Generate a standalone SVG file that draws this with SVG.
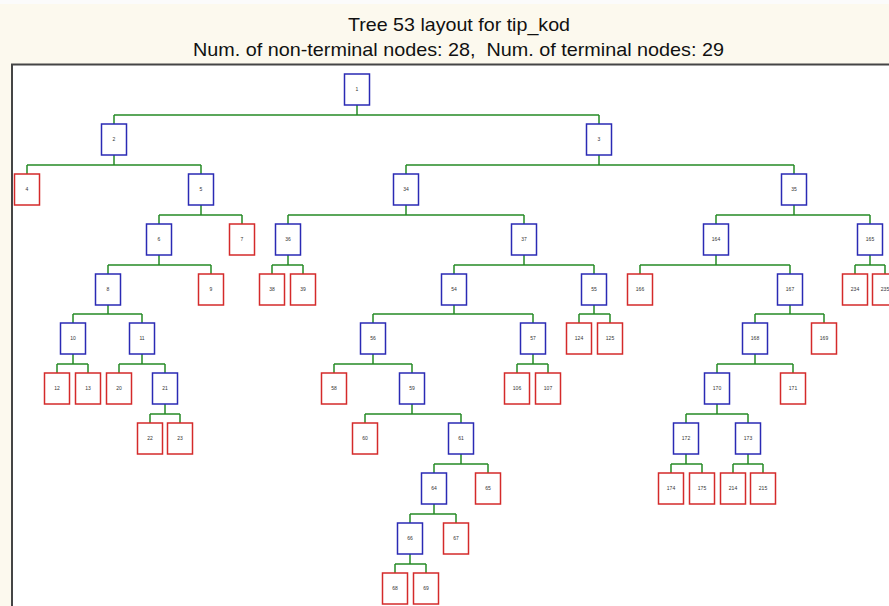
<svg xmlns="http://www.w3.org/2000/svg" width="889" height="606" viewBox="0 0 889 606">
<style>
.n rect{fill:#fff;stroke:#2a2ab4;stroke-width:1.5}
.t rect{fill:#fff;stroke:#d42a2a;stroke-width:1.5}
text.l{font-family:"Liberation Sans",Arial,sans-serif;font-size:5px;fill:#333;text-anchor:middle}
.hd{font-family:"Liberation Sans",Arial,sans-serif;font-size:18.5px;fill:#111;text-anchor:middle}
#connectors path{fill:none;stroke:#268a26;stroke-width:1.5}
</style>
<rect x="0" y="0" width="889" height="606" fill="#fcf9ee"/>
<rect x="0" y="0" width="889" height="4" fill="#fbfbfb"/>
<text class="hd" x="459" y="31" textLength="222" lengthAdjust="spacingAndGlyphs">Tree 53 layout for tip_kod</text>
<text class="hd" x="458.5" y="56" textLength="531" lengthAdjust="spacingAndGlyphs" xml:space="preserve">Num. of non-terminal nodes: 28,  Num. of terminal nodes: 29</text>
<rect x="12" y="64.5" width="900" height="600" fill="#fff" stroke="#454545" stroke-width="2"/>
<g id="connectors">
<path d="M357,105V115M114,115H599M114,115V124M599,115V124"/>
<path d="M114,155V165M27,165H201M27,165V174M201,165V174"/>
<path d="M599,155V165M406,165H794M406,165V174M794,165V174"/>
<path d="M201,205V215M159,215H242M159,215V224M242,215V224"/>
<path d="M406,205V215M288,215H524M288,215V224M524,215V224"/>
<path d="M794,205V215M716,215H870M716,215V224M870,215V224"/>
<path d="M159,255V265M108,265H211M108,265V274M211,265V274"/>
<path d="M288,255V265M272,265H303M272,265V274M303,265V274"/>
<path d="M524,255V265M454,265H594M454,265V274M594,265V274"/>
<path d="M716,255V265M640,265H790M640,265V274M790,265V274"/>
<path d="M870,255V265M855,265H885M855,265V274M885,265V274"/>
<path d="M108,305V314M73,314H142M73,314V323M142,314V323"/>
<path d="M454,305V314M373,314H533M373,314V323M533,314V323"/>
<path d="M594,305V314M579,314H610M579,314V323M610,314V323"/>
<path d="M790,305V314M755,314H824M755,314V323M824,314V323"/>
<path d="M73,354V364M57,364H88M57,364V373M88,364V373"/>
<path d="M142,354V364M119,364H165M119,364V373M165,364V373"/>
<path d="M373,354V364M334,364H412M334,364V373M412,364V373"/>
<path d="M533,354V364M517,364H548M517,364V373M548,364V373"/>
<path d="M755,354V364M717,364H793M717,364V373M793,364V373"/>
<path d="M165,404V414M150,414H180M150,414V423M180,414V423"/>
<path d="M412,404V414M365,414H461M365,414V423M461,414V423"/>
<path d="M717,404V414M686,414H748M686,414V423M748,414V423"/>
<path d="M461,454V464M434,464H488M434,464V473M488,464V473"/>
<path d="M686,454V464M671,464H702M671,464V473M702,464V473"/>
<path d="M748,454V464M733,464H763M733,464V473M763,464V473"/>
<path d="M434,504V514M410,514H456M410,514V523M456,514V523"/>
<path d="M410,554V564M395,564H426M395,564V573M426,564V573"/>
</g>
<g id="n1" class="n"><rect x="344.5" y="74" width="25" height="31"/><text class="l" x="357" y="91">1</text></g>
<g id="n2" class="n"><rect x="101.5" y="124" width="25" height="31"/><text class="l" x="114" y="141">2</text></g>
<g id="n3" class="n"><rect x="586.5" y="124" width="25" height="31"/><text class="l" x="599" y="141">3</text></g>
<g id="n4" class="t"><rect x="14.5" y="174" width="25" height="31"/><text class="l" x="27" y="191">4</text></g>
<g id="n5" class="n"><rect x="188.5" y="174" width="25" height="31"/><text class="l" x="201" y="191">5</text></g>
<g id="n34" class="n"><rect x="393.5" y="174" width="25" height="31"/><text class="l" x="406" y="191">34</text></g>
<g id="n35" class="n"><rect x="781.5" y="174" width="25" height="31"/><text class="l" x="794" y="191">35</text></g>
<g id="n6" class="n"><rect x="146.5" y="224" width="25" height="31"/><text class="l" x="159" y="241">6</text></g>
<g id="n7" class="t"><rect x="229.5" y="224" width="25" height="31"/><text class="l" x="242" y="241">7</text></g>
<g id="n36" class="n"><rect x="275.5" y="224" width="25" height="31"/><text class="l" x="288" y="241">36</text></g>
<g id="n37" class="n"><rect x="511.5" y="224" width="25" height="31"/><text class="l" x="524" y="241">37</text></g>
<g id="n164" class="n"><rect x="703.5" y="224" width="25" height="31"/><text class="l" x="716" y="241">164</text></g>
<g id="n165" class="n"><rect x="857.5" y="224" width="25" height="31"/><text class="l" x="870" y="241">165</text></g>
<g id="n8" class="n"><rect x="95.5" y="274" width="25" height="31"/><text class="l" x="108" y="291">8</text></g>
<g id="n9" class="t"><rect x="198.5" y="274" width="25" height="31"/><text class="l" x="211" y="291">9</text></g>
<g id="n38" class="t"><rect x="259.5" y="274" width="25" height="31"/><text class="l" x="272" y="291">38</text></g>
<g id="n39" class="t"><rect x="290.5" y="274" width="25" height="31"/><text class="l" x="303" y="291">39</text></g>
<g id="n54" class="n"><rect x="441.5" y="274" width="25" height="31"/><text class="l" x="454" y="291">54</text></g>
<g id="n55" class="n"><rect x="581.5" y="274" width="25" height="31"/><text class="l" x="594" y="291">55</text></g>
<g id="n166" class="t"><rect x="627.5" y="274" width="25" height="31"/><text class="l" x="640" y="291">166</text></g>
<g id="n167" class="n"><rect x="777.5" y="274" width="25" height="31"/><text class="l" x="790" y="291">167</text></g>
<g id="n234" class="t"><rect x="842.5" y="274" width="25" height="31"/><text class="l" x="855" y="291">234</text></g>
<g id="n235" class="t"><rect x="872.5" y="274" width="25" height="31"/><text class="l" x="885" y="291">235</text></g>
<g id="n10" class="n"><rect x="60.5" y="323" width="25" height="31"/><text class="l" x="73" y="340">10</text></g>
<g id="n11" class="n"><rect x="129.5" y="323" width="25" height="31"/><text class="l" x="142" y="340">11</text></g>
<g id="n56" class="n"><rect x="360.5" y="323" width="25" height="31"/><text class="l" x="373" y="340">56</text></g>
<g id="n57" class="n"><rect x="520.5" y="323" width="25" height="31"/><text class="l" x="533" y="340">57</text></g>
<g id="n124" class="t"><rect x="566.5" y="323" width="25" height="31"/><text class="l" x="579" y="340">124</text></g>
<g id="n125" class="t"><rect x="597.5" y="323" width="25" height="31"/><text class="l" x="610" y="340">125</text></g>
<g id="n168" class="n"><rect x="742.5" y="323" width="25" height="31"/><text class="l" x="755" y="340">168</text></g>
<g id="n169" class="t"><rect x="811.5" y="323" width="25" height="31"/><text class="l" x="824" y="340">169</text></g>
<g id="n12" class="t"><rect x="44.5" y="373" width="25" height="31"/><text class="l" x="57" y="390">12</text></g>
<g id="n13" class="t"><rect x="75.5" y="373" width="25" height="31"/><text class="l" x="88" y="390">13</text></g>
<g id="n20" class="t"><rect x="106.5" y="373" width="25" height="31"/><text class="l" x="119" y="390">20</text></g>
<g id="n21" class="n"><rect x="152.5" y="373" width="25" height="31"/><text class="l" x="165" y="390">21</text></g>
<g id="n58" class="t"><rect x="321.5" y="373" width="25" height="31"/><text class="l" x="334" y="390">58</text></g>
<g id="n59" class="n"><rect x="399.5" y="373" width="25" height="31"/><text class="l" x="412" y="390">59</text></g>
<g id="n106" class="t"><rect x="504.5" y="373" width="25" height="31"/><text class="l" x="517" y="390">106</text></g>
<g id="n107" class="t"><rect x="535.5" y="373" width="25" height="31"/><text class="l" x="548" y="390">107</text></g>
<g id="n170" class="n"><rect x="704.5" y="373" width="25" height="31"/><text class="l" x="717" y="390">170</text></g>
<g id="n171" class="t"><rect x="780.5" y="373" width="25" height="31"/><text class="l" x="793" y="390">171</text></g>
<g id="n22" class="t"><rect x="137.5" y="423" width="25" height="31"/><text class="l" x="150" y="440">22</text></g>
<g id="n23" class="t"><rect x="167.5" y="423" width="25" height="31"/><text class="l" x="180" y="440">23</text></g>
<g id="n60" class="t"><rect x="352.5" y="423" width="25" height="31"/><text class="l" x="365" y="440">60</text></g>
<g id="n61" class="n"><rect x="448.5" y="423" width="25" height="31"/><text class="l" x="461" y="440">61</text></g>
<g id="n172" class="n"><rect x="673.5" y="423" width="25" height="31"/><text class="l" x="686" y="440">172</text></g>
<g id="n173" class="n"><rect x="735.5" y="423" width="25" height="31"/><text class="l" x="748" y="440">173</text></g>
<g id="n64" class="n"><rect x="421.5" y="473" width="25" height="31"/><text class="l" x="434" y="490">64</text></g>
<g id="n65" class="t"><rect x="475.5" y="473" width="25" height="31"/><text class="l" x="488" y="490">65</text></g>
<g id="n174" class="t"><rect x="658.5" y="473" width="25" height="31"/><text class="l" x="671" y="490">174</text></g>
<g id="n175" class="t"><rect x="689.5" y="473" width="25" height="31"/><text class="l" x="702" y="490">175</text></g>
<g id="n214" class="t"><rect x="720.5" y="473" width="25" height="31"/><text class="l" x="733" y="490">214</text></g>
<g id="n215" class="t"><rect x="750.5" y="473" width="25" height="31"/><text class="l" x="763" y="490">215</text></g>
<g id="n66" class="n"><rect x="397.5" y="523" width="25" height="31"/><text class="l" x="410" y="540">66</text></g>
<g id="n67" class="t"><rect x="443.5" y="523" width="25" height="31"/><text class="l" x="456" y="540">67</text></g>
<g id="n68" class="t"><rect x="382.5" y="573" width="25" height="31"/><text class="l" x="395" y="590">68</text></g>
<g id="n69" class="t"><rect x="413.5" y="573" width="25" height="31"/><text class="l" x="426" y="590">69</text></g>
</svg>
